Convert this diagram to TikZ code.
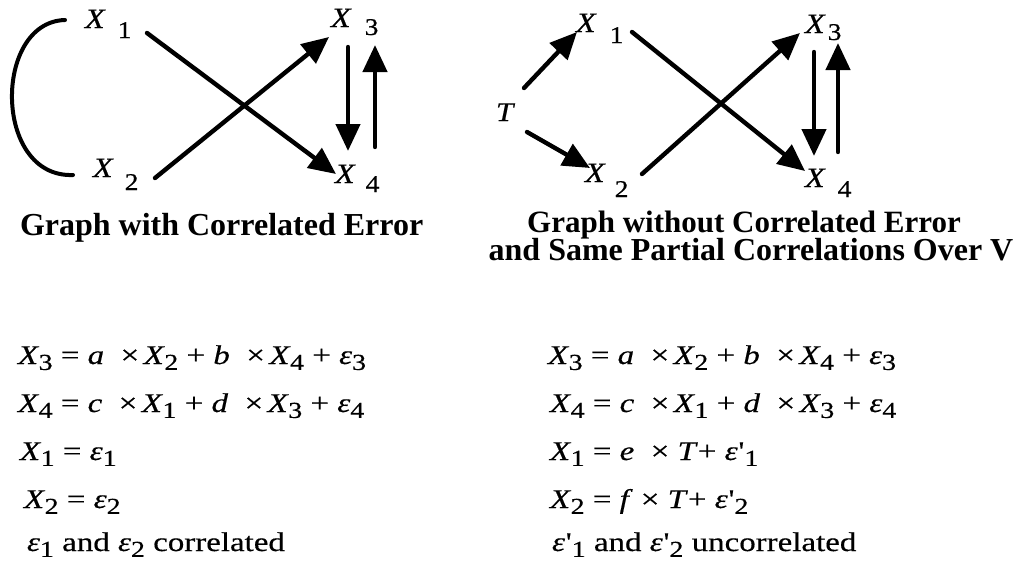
\documentclass[tikz,border=0pt]{standalone}
\usepackage{fontspec}
\usepackage{graphicx}
\setmainfont{Liberation Serif}
\newfontfamily\eqf{Liberation Serif}[FakeStretch=1.22,FakeBold=0.4]
\newfontfamily\labf{Liberation Serif}[FakeStretch=1.15,FakeBold=0.5]
\usetikzlibrary{arrows.meta}
\newcommand\sbs[1]{\raisebox{-0.22em}{\scalebox{0.85}{#1}}}
\newcommand\iv[1]{\textit{#1}}
\newcommand\vx[1]{\textit{X}\kern-0.02em\sbs{#1}}
\newcommand\ep[1]{\textit{ε}\sbs{#1}}
\newcommand\epp[1]{\textit{ε}\kern0.03em'\sbs{#1}}
\newcommand\gl[4]{{\fontsize{28}{28}\selectfont\textit{#1}}\hspace{#2}\raisebox{-#3}{#4}}
\begin{document}
\begin{tikzpicture}[x=1pt,y=-1pt,
  every node/.style={inner sep=0pt,outer sep=0pt},
  arr/.style={line width=4.4pt,line cap=round,-{Triangle[length=27pt,width=24pt]}},
  corr/.style={line width=4pt,line cap=round},
  lab/.style={anchor=base west,font=\labf\fontsize{24}{24}\selectfont},
  captxt/.style={anchor=base,font=\fontsize{32}{32}\selectfont\bfseries},
  eq/.style={anchor=base west,font=\eqf\fontsize{27}{27}\selectfont}]
\useasboundingbox (0,0) rectangle (1023,560);
\fill[white] (0,0) rectangle (1023,560);

% ---------- left graph ----------
\node[lab] (L1) at (85,28) {\gl{X}{12pt}{10pt}{1}};
\node[lab] (L2) at (93,177) {\gl{X}{11pt}{13pt}{2}};
\node[lab] (L3) at (331,27) {\gl{X}{13pt}{8pt}{3}};
\node[lab] (L4) at (335,183) {\gl{X}{10pt}{9pt}{4}};

\coordinate (La) at (65,20);
\coordinate (Lb) at (73,175);
\draw[corr] (La) .. controls (-7,22) and (-7,178) .. (Lb);

\coordinate (L1s) at (147,33);
\coordinate (L4e) at (336,174);
\coordinate (L2s) at (155,178);
\coordinate (L3e) at (329,37);
\draw[arr] (L1s) -- (L4e);
\draw[arr] (L2s) -- (L3e);
\coordinate (L3d) at (348,47);
\coordinate (L4d) at (348,151);
\coordinate (L4u) at (375,147);
\coordinate (L3u) at (375,45);
\draw[arr] (L3d) -- (L4d);
\draw[arr] (L4u) -- (L3u);

% ---------- right graph ----------
\node[lab,font=\labf\fontsize{27}{27}\selectfont] (T) at (496,121) {\textit{T}};
\node[lab] (R1) at (576,32) {\gl{X}{13pt}{11pt}{1}};
\node[lab] (R2) at (585,182) {\gl{X}{9pt}{15pt}{2}};
\node[lab] (R3) at (805,33) {\gl{X}{2pt}{7pt}{3}};
\node[lab] (R4) at (805,187) {\gl{X}{12pt}{10pt}{4}};

\coordinate (Ts1) at (524,88);
\coordinate (R1e) at (577,32);
\coordinate (Ts2) at (527,132);
\coordinate (R2e) at (590,168);
\draw[arr] (Ts1) -- (R1e);
\draw[arr] (Ts2) -- (R2e);
\coordinate (R1s) at (632,32);
\coordinate (R4e) at (805,171);
\coordinate (R2s) at (642,174);
\coordinate (R3e) at (800,33);
\draw[arr] (R1s) -- (R4e);
\draw[arr] (R2s) -- (R3e);
\coordinate (R3d) at (814,52);
\coordinate (R4d) at (814,156);
\coordinate (R4u) at (838,152);
\coordinate (R3u) at (838,43);
\draw[arr] (R3d) -- (R4d);
\draw[arr] (R4u) -- (R3u);

% ---------- captions ----------
\node[captxt,anchor=base west] (capL) at (20,235) {Graph with Correlated Error};
\node[captxt,font=\fontsize{31}{31}\selectfont\bfseries] (capR1) at (744,232) {Graph without Correlated Error};
\node[captxt] (capR2) at (751,260) {and Same Partial Correlations Over V};

% ---------- equations ----------
\node[eq] (e1) at (18,364) {\vx{3} = \iv{a}\ \ ×\,\vx{2} + \iv{b}\ \ ×\,\vx{4} + \ep{3}};
\node[eq] (e2) at (18,412) {\vx{4} = \iv{c}\ \ ×\,\vx{1} + \iv{d}\ \ ×\,\vx{3} + \ep{4}};
\node[eq] (e3) at (20,460) {\vx{1} = \ep{1}};
\node[eq] (e4) at (24,508) {\vx{2} = \ep{2}};
\node[eq] (e5) at (27,551) {\ep{1} and \ep{2} correlated};

\node[eq] (f1) at (548,364) {\vx{3} = \iv{a}\ \ ×\,\vx{2} + \iv{b}\ \ ×\,\vx{4} + \ep{3}};
\node[eq] (f2) at (550,412) {\vx{4} = \iv{c}\ \ ×\,\vx{1} + \iv{d}\ \ ×\,\vx{3} + \ep{4}};
\node[eq] (f3) at (550,460) {\vx{1} = \iv{e}\ \ × \iv{T}+ \epp{1}};
\node[eq] (f4) at (550,508) {\vx{2} = \iv{f}\ × \iv{T}+ \epp{2}};
\node[eq] (f5) at (552,551) {\epp{1} and \epp{2} uncorrelated};
\end{tikzpicture}
\end{document}
